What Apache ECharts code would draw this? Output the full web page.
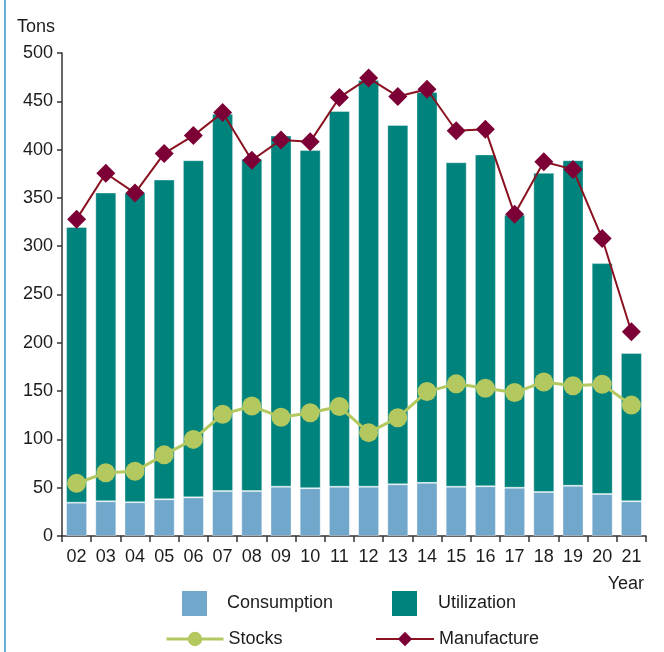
<!DOCTYPE html>
<html>
<head>
<meta charset="utf-8">
<script src="https://cdn.jsdelivr.net/npm/echarts@6/dist/echarts.min.js"></script>
<style>
  html, body { margin: 0; padding: 0; background: #fff; }
  #chart { width: 664px; height: 652px; }
</style>
</head>
<body>
<div id="chart"></div>
<script>
// values (tons)
const years = ["02", "03", "04", "05", "06", "07", "08", "09", "10", "11",
  "12", "13", "14", "15", "16", "17", "18", "19", "20", "21"];
const consumption = [34.5, 36, 35, 38, 40, 46.5, 46.5, 51, 49.5, 51,
  51, 53.5, 55, 51, 51.5, 50, 45.5, 52, 43.5, 36];
const utilization = [285.5, 319.5, 320.5, 331, 349, 390.5, 344, 363.5, 350, 389,
  421, 372, 404.5, 336, 343.5, 282.5, 330.5, 337, 239, 153.5];
const stocks = [54.5, 65.5, 67, 84, 100, 126, 134.5, 123, 127.5, 134,
  107, 122.5, 149.5, 157.5, 153, 148.5, 159.5, 155.5, 157, 135.5];
const manufacture = [328, 375.5, 355, 396, 414.5, 438.5, 389, 410, 408, 454,
  474, 455, 462.5, 419.5, 421, 333, 387.5, 379.5, 308, 211.5];
const yTicks = [0, 50, 100, 150, 200, 250, 300, 350, 400, 450, 500];

const FONT = "Liberation Sans, Arial, sans-serif";
const TEXT = "#1e1b1c";
const AXIS = "#333";

const chart = echarts.init(document.getElementById("chart"), null, { renderer: "canvas" });

function legendItem(name, left, top, w, h, textPad, icon) {
  const item = {
    data: [name],
    left: left,
    top: top,
    padding: 0,
    itemWidth: w,
    itemHeight: h,
    selectedMode: false,
    itemStyle: { borderWidth: 0 },
    textStyle: { fontFamily: FONT, fontSize: 18, color: TEXT, padding: [0, 0, 0, textPad] },
  };
  if (icon) item.icon = icon;
  return item;
}

const stocksLegend = legendItem("Stocks", 165, 630, 57, 18, 0);
stocksLegend.lineStyle = { width: 3 };
const manuLegend = legendItem("Manufacture", 375, 630, 58, 18, 0);
manuLegend.lineStyle = { width: 2 };

chart.setOption({
  animation: false,
  textStyle: { fontFamily: FONT },
  grid: { left: 62, right: 18, top: 53, bottom: 116 },
  graphic: [
    { type: "rect", left: 4, top: 0, shape: { width: 2, height: 652 }, style: { fill: "#6aaed6" } },
  ],
  legend: [
    legendItem("Consumption", 182, 591, 25, 25, 15, "rect"),
    legendItem("Utilization", 392, 591, 25, 25, 16, "rect"),
    stocksLegend,
    manuLegend,
  ],
  xAxis: {
    type: "category",
    data: years,
    name: "Year",
    nameLocation: "end",
    nameGap: -2,
    nameTextStyle: { fontSize: 18, color: TEXT, align: "right", verticalAlign: "top", padding: [39, 0, 0, 0] },
    axisLine: { lineStyle: { color: AXIS, width: 1.5 } },
    axisTick: { show: true, length: 6, alignWithLabel: false, lineStyle: { color: AXIS, width: 1.5 } },
    axisLabel: { fontSize: 18, color: TEXT, margin: 12, interval: 0 },
  },
  yAxis: {
    type: "value",
    min: 0,
    max: 500,
    interval: 50,
    name: "Tons",
    nameGap: 17,
    nameTextStyle: { fontSize: 18, color: TEXT, align: "right", padding: [0, 7, 0, 0] },
    axisLine: { show: true, lineStyle: { color: AXIS, width: 1.5 } },
    axisTick: { show: true, length: 5, lineStyle: { color: AXIS, width: 1.5 } },
    axisLabel: {
      fontSize: 18, color: TEXT, margin: 9,
      formatter: (v) => (yTicks.includes(v) ? String(v) : ""),
    },
    splitLine: { show: false },
  },
  series: [
    {
      name: "Consumption",
      type: "bar",
      stack: "total",
      barWidth: 21,
      data: consumption,
      itemStyle: { color: "#71a7ca", borderColor: "rgba(255,255,255,0.35)", borderWidth: 1 },
    },
    {
      name: "Utilization",
      type: "bar",
      stack: "total",
      barWidth: 21,
      data: utilization,
      itemStyle: { color: "#00837d", borderColor: "rgba(255,255,255,0.35)", borderWidth: 1 },
    },
    {
      name: "Stocks",
      type: "line",
      data: stocks,
      symbol: "circle",
      symbolSize: 19,
      z: 5,
      lineStyle: { color: "#b3c85f", width: 3 },
      itemStyle: { color: "#b3c85f" },
    },
    {
      name: "Manufacture",
      type: "line",
      data: manufacture,
      symbol: "diamond",
      symbolSize: [19, 19],
      z: 6,
      lineStyle: { color: "#8a1220", width: 2 },
      itemStyle: { color: "#7c0036" },
    },
  ],
});
</script>
</body>
</html>
